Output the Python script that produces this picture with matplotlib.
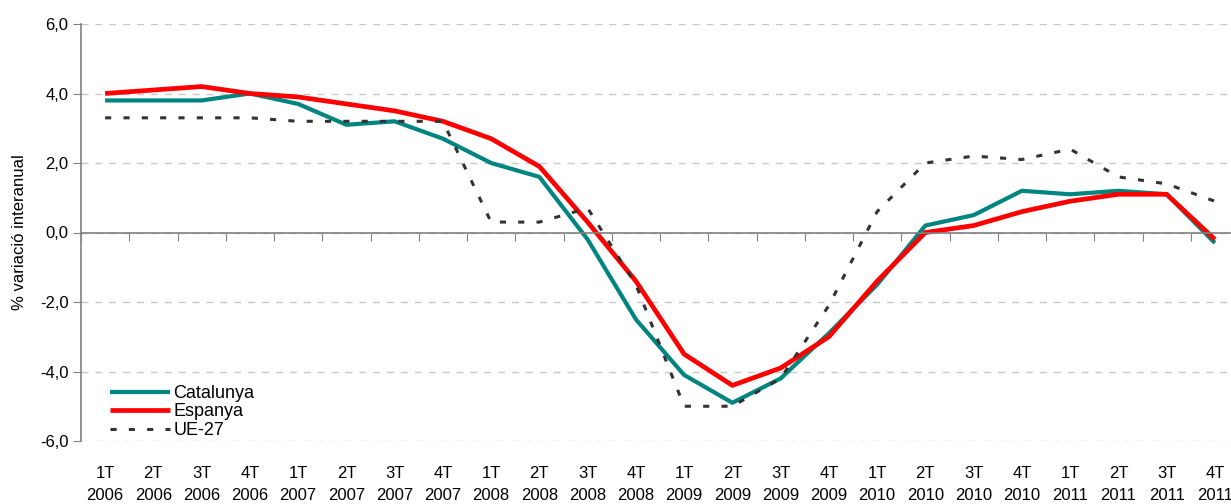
import matplotlib.pyplot as plt
import numpy as np

plt.rcParams['font.family'] = ['Liberation Sans Narrow', 'Liberation Sans', 'DejaVu Sans']

# trimestres
quarters = ['1T', '2T', '3T', '4T'] * 6
years = ['2006'] * 4 + ['2007'] * 4 + ['2008'] * 4 + ['2009'] * 4 + ['2010'] * 4 + ['2011'] * 4
tick_labels = [q + '\n' + y for q, y in zip(quarters, years)]

catalunya = [3.8, 3.8, 3.8, 4.0, 3.7, 3.1, 3.2, 2.7, 2.0, 1.6, -0.2, -2.5,
             -4.1, -4.9, -4.2, -2.9, -1.5, 0.2, 0.5, 1.2, 1.1, 1.2, 1.1, -0.3]
espanya = [4.0, 4.1, 4.2, 4.0, 3.9, 3.7, 3.5, 3.2, 2.7, 1.9, 0.3, -1.4,
           -3.5, -4.4, -3.9, -3.0, -1.4, 0.0, 0.2, 0.6, 0.9, 1.1, 1.1, -0.2]
ue27 = [3.3, 3.3, 3.3, 3.3, 3.2, 3.2, 3.2, 3.2, 0.3, 0.3, 0.7, -1.5,
        -5.0, -5.0, -4.2, -2.1, 0.6, 2.0, 2.2, 2.1, 2.4, 1.6, 1.4, 0.9]

x = np.arange(len(tick_labels))

fig = plt.figure(figsize=(12.31, 5.04), dpi=100)
ax = fig.add_axes([81 / 1231, 63 / 504, 1158 / 1231, 417 / 504])

ax.plot(x, catalunya, color='#008580', lw=3, label='Catalunya', solid_capstyle='butt')
ax.plot(x, espanya, color='#ff0000', lw=3.4, label='Espanya', solid_capstyle='butt')
ax.plot(x, ue27, color='#333333', lw=2.2, dashes=(2, 4), label='UE-27')

ax.set_xlim(-0.5, 23.5)
ax.set_ylim(-6, 6)
ax.set_yticks(np.arange(-6, 7, 2))
ax.set_yticklabels([('%.1f' % v).replace('.', ',') for v in np.arange(-6, 7, 2)], fontsize=12)
ax.tick_params(axis='y', direction='out', length=6, color='#808080', pad=3)
ax.yaxis.grid(True, color='#c8c8c8', lw=1, dashes=(5, 5))
ax.set_axisbelow(True)
ax.set_ylabel('% variació interanual', fontsize=12, labelpad=9)

for s in ['top', 'right']:
    ax.spines[s].set_visible(False)
ax.spines['left'].set_color('#808080')
ax.spines['left'].set_linewidth(1.2)
ax.spines['bottom'].set_position(('data', 0))
ax.spines['bottom'].set_color('#808080')
ax.spines['bottom'].set_linewidth(1.2)
ax.set_xticks(np.arange(-0.5, 24, 1))
ax.set_xticklabels([])
ax.tick_params(axis='x', direction='out', length=6, color='#808080')

sec = ax.secondary_xaxis(0.0)
sec.set_xticks(x)
sec.set_xticklabels(tick_labels, fontsize=12, linespacing=1.55)
sec.tick_params(length=0, pad=18)
sec.spines['bottom'].set_visible(False)

ax.legend(loc='lower left', bbox_to_anchor=(0.025, 0.005), frameon=False, fontsize=13,
          handlelength=3.3, handletextpad=0.2, labelspacing=0.08, borderpad=0, borderaxespad=0)

fig.savefig('out.png', dpi=100)
